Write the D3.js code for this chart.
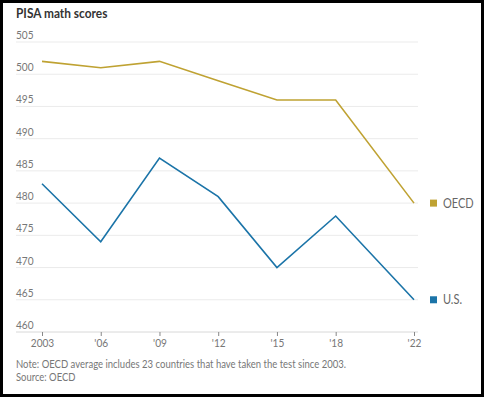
<!DOCTYPE html>
<html>
<head>
<meta charset="utf-8">
<script src="https://cdnjs.cloudflare.com/ajax/libs/d3/7.8.5/d3.min.js"></script>
<style>
  html, body { margin: 0; padding: 0; background: #fff; }
  svg { display: block; }
  text { font-family: Lato, "Open Sans", sans-serif; }
</style>
</head>
<body>
<div id="chart"></div>
<script>
// data
const years = [2003, 2006, 2009, 2012, 2015, 2018, 2022];
const yearLabels = ["2003", "'06", "'09", "'12", "'15", "'18", "'22"];
const oecd = [502, 501, 502, 499, 496, 496, 480];
const us = [483, 474, 487, 481, 470, 478, 465];
const yTicks = [460, 465, 470, 475, 480, 485, 490, 495, 500, 505];

const series = [
  { name: "OECD", values: oecd, color: "#bfa232" },
  { name: "U.S.", values: us, color: "#1b74a8" }
];

const width = 484, height = 398;

const x = d3.scaleLinear().domain([2003, 2022]).range([42, 414]);
const y = d3.scaleLinear().domain([460, 505]).range([332, 42]);

// the original font is narrower than anything installed
function squeeze(sel, k) {
  sel.each(function() {
    const w = this.getComputedTextLength();
    d3.select(this).attr("textLength", w * k).attr("lengthAdjust", "spacingAndGlyphs");
  });
}

const svg = d3.select("#chart")
  .append("svg")
    .attr("width", width)
    .attr("height", height);

// frame
svg.append("rect")
  .attr("x", 1.5).attr("y", 1.5)
  .attr("width", width - 3).attr("height", height - 4)
  .attr("fill", "none")
  .attr("stroke", "#000")
  .attr("stroke-width", 3);

svg.append("text")
  .attr("x", 16).attr("y", 18)
  .attr("font-size", 13.5)
  .attr("font-weight", "bold")
  .attr("fill", "#333")
  .text("PISA math scores")
  .call(squeeze, 0.88);

// gridlines + labels
const grid = svg.append("g");
grid.selectAll("line")
  .data(yTicks)
  .enter()
  .append("line")
    .attr("x1", 16).attr("x2", 418)
    .attr("y1", d => y(d)).attr("y2", d => y(d))
    .attr("stroke", d => d === 460 ? "#d8d8d8" : "#ebebeb")
    .attr("stroke-width", 1);

grid.selectAll("text")
  .data(yTicks)
  .enter()
  .append("text")
    .attr("x", 16)
    .attr("y", d => y(d) - 3)
    .attr("font-size", 11.5)
    .attr("fill", "#777")
    .text(d => d)
    .call(squeeze, 0.88);

// x axis
const xAxis = d3.axisBottom(x)
  .tickValues(years)
  .tickFormat((d, i) => yearLabels[i])
  .tickSize(4)
  .tickPadding(3);

const gx = svg.append("g")
  .attr("transform", `translate(0,${y(460)})`)
  .call(xAxis);
gx.select(".domain").remove();
gx.selectAll(".tick line").attr("stroke", "#888");
gx.selectAll(".tick text")
  .attr("font-size", 11.5)
  .attr("fill", "#777")
  .attr("font-family", null)
  .call(squeeze, 0.88);

// lines
const line = d3.line()
  .x((d, i) => x(years[i]))
  .y(d => y(d));

svg.selectAll(".series")
  .data(series)
  .enter()
  .append("path")
    .attr("class", "series")
    .attr("d", d => line(d.values))
    .attr("fill", "none")
    .attr("stroke", d => d.color)
    .attr("stroke-width", 1.6);

// legend at line ends
const legend = svg.selectAll(".legend")
  .data(series)
  .enter()
  .append("g")
    .attr("class", "legend")
    .attr("transform", d => `translate(430,${y(d.values[d.values.length - 1])})`);

legend.append("rect")
  .attr("x", 0).attr("y", -3.5)
  .attr("width", 7).attr("height", 7)
  .attr("fill", d => d.color);

legend.append("text")
  .attr("x", 13).attr("y", 4.5)
  .attr("font-size", 12.5)
  .attr("fill", "#666")
  .text(d => d.name)
  .call(squeeze, 0.88);

svg.append("text")
  .attr("x", 16).attr("y", 368)
  .attr("font-size", 11.5)
  .attr("fill", "#777")
  .text("Note: OECD average includes 23 countries that have taken the test since 2003.")
  .attr("textLength", 330)
  .attr("lengthAdjust", "spacingAndGlyphs");

svg.append("text")
  .attr("x", 16).attr("y", 381)
  .attr("font-size", 11.5)
  .attr("fill", "#777")
  .text("Source: OECD")
  .call(squeeze, 0.82);
</script>
</body>
</html>
